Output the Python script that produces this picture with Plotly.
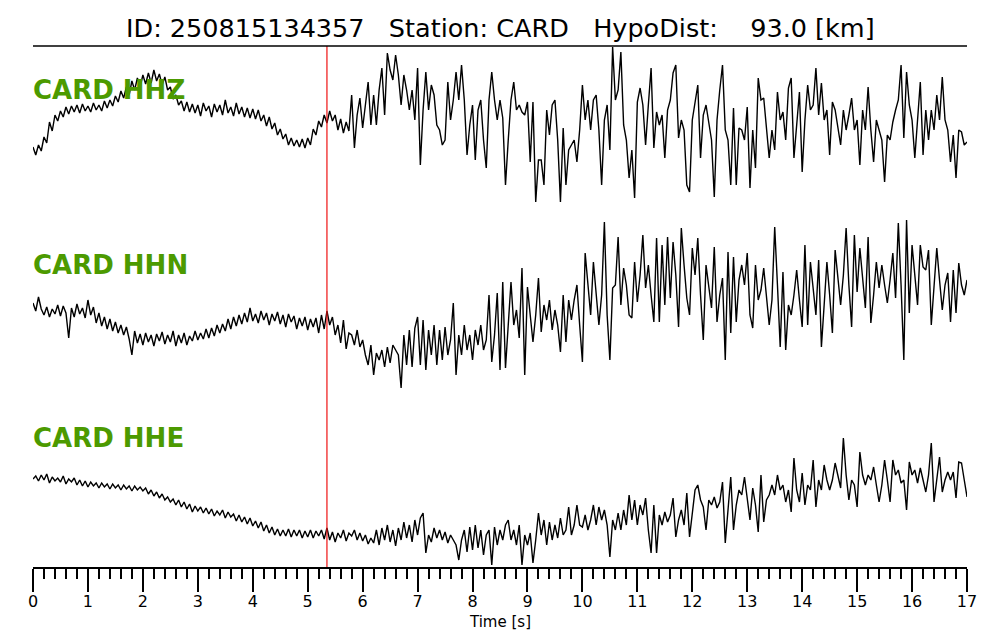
import numpy as np
import plotly.graph_objects as go

# ---------------- data ----------------
DT = 0.05
T_MAX = 17           # axis end [s]
P_PICK = 5.35        # P-arrival pick [s]
TITLE = "ID: 250815134357   Station: CARD   HypoDist:    93.0 [km]"
CHANNELS = ["CARD HHZ", "CARD HHN", "CARD HHE"]
X_TICKS = list(range(0, 18))

# normalised amplitudes (arbitrary units, positive = up), one value per DT
HHZ = [
    -22, -30, -20, -26, -12, -18, 3, -6, 10, 4,
    14, 8, 18, 11, 19, 13, 20, 12, 21, 14,
    19, 13, 22, 15, 20, 14, 24, 17, 25, 19,
    29, 23, 34, 27, 38, 30, 44, 35, 47, 38,
    50, 41, 52, 42, 55, 44, 51, 40, 48, 35,
    38, 26, 30, 20, 24, 14, 23, 13, 21, 12,
    20, 9, 22, 14, 19, 8, 21, 13, 20, 10,
    25, 12, 18, 9, 22, 11, 18, 8, 17, 7,
    16, 6, 15, 4, 10, -1, 8, -4, 2, -10,
    -4, -14, -9, -20, -13, -21, -15, -22, -14, -23,
    -13, -20, -4, -10, 4, -2, 10, 2, 14, 4,
    10, -5, 6, -8, 3, -6, 30, -23, 10, 27,
    -3, 20, 43, 0, 30, 0, 35, 57, 10, 72,
    55, 45, 70, 50, 20, 50, 35, 15, 35, 5,
    57, -40, 15, 53, 15, 40, 30, 0, -5, -20,
    -15, 43, 5, 25, 53, 25, 60, 25, -30, 0,
    20, -35, 15, 25, -15, -43, 25, 53, 25, 5,
    25, 7, -60, -15, 25, 43, 15, 20, 13, 10,
    23, -37, 23, -77, -35, -35, -60, 15, -10, 20,
    25, -15, -77, -3, -60, -25, -20, -15, -37, -5,
    40, 5, 25, -5, 25, 30, -5, -60, 5, 20,
    -25, 78, 25, 35, 73, 0, -15, -53, -25, -73,
    23, 37, 20, -20, 20, 57, -23, 13, 0, 10,
    -33, 15, 25, 52, 60, -13, 5, -5, -60, -67,
    5, 25, 40, -33, 10, 20, 0, -15, -72, 5,
    35, 60, -5, -15, -60, 17, -60, -3, -5, -15,
    18, -63, -5, -43, 47, 25, 27, -5, -33, -5,
    -25, 33, 5, 13, -15, 37, 47, -33, 5, 33,
    -47, 5, 40, 15, 20, 57, 10, 42, 5, 15,
    -30, 23, 15, -5, -20, 15, -5, 10, 27, -5,
    5, -40, 15, -5, 38, -5, -37, 5, -5, -15,
    -57, -10, -15, 3, 15, 25, 60, -13, 53, 20,
    5, -33, 5, 43, -30, 15, -15, 15, -5, 30,
    5, 48, 5, -5, -37, -10, -53, -5, -7, -20,
    -17,
]

HHN = [
    2, -6, 8, -4, -10, -2, -12, -4, -9, 0,
    -11, -1, -8, -33, -3, -12, 1, -9, -3, -13,
    5, -10, -2, -18, -8, -21, -12, -24, -14, -26,
    -17, -28, -20, -30, -22, -34, -50, -26, -38, -29,
    -40, -28, -37, -30, -41, -29, -36, -27, -39, -30,
    -37, -26, -41, -30, -38, -28, -40, -31, -36, -26,
    -35, -28, -34, -24, -33, -23, -31, -20, -28, -19,
    -26, -14, -24, -12, -21, -10, -19, -8, -17, -3,
    -16, -9, -18, -6, -15, -8, -20, -9, -16, -7,
    -19, -10, -22, -9, -17, -11, -24, -13, -21, -12,
    -25, -14, -22, -13, -28, -10, -24, -6, -20, -12,
    -30, -20, -38, -15, -44, -28, -30, -40, -25, -42,
    -35, -50, -60, -40, -70, -48, -55, -45, -62, -42,
    -58, -40, -45, -50, -83, -30, -60, -25, -62, -23,
    -12, -60, -15, -65, -25, -50, -20, -60, -25, -55,
    -22, -50, -35, 2, -70, -30, -50, -20, -45, -30,
    -55, -25, -40, -20, -45, -35, 10, -57, -30, 12,
    -65, 23, -63, -25, 23, -20, -5, -33, 37, -70,
    18, -10, -37, -10, 27, -27, 0, -15, 5, -25,
    -5, -20, -47, 10, -37, 5, -15, 5, 20, -20,
    -57, 52, 20, -10, 43, 15, -20, 10, 83, -10,
    -55, 17, 20, 68, 0, 37, 20, -10, -13, 43,
    3, 30, 70, 17, 40, 10, -17, 67, -17, 60,
    0, 68, 7, 63, 30, -22, 77, 40, 7, -10,
    57, 30, 67, 10, -35, 40, 20, -3, 58, -17,
    10, 27, -55, 53, -28, 48, -17, 25, 40, 20,
    52, -10, -23, 40, 5, 15, 37, 10, -20, 5,
    78, 20, -42, 33, -45, 0, -10, 10, 35, 5,
    -22, 60, -20, 43, 15, -10, 45, -42, 0, 43,
    10, -28, 55, 30, 0, 30, 77, 20, -22, 70,
    13, 57, 30, -3, 68, -18, 10, 43, 17, 40,
    20, 2, 25, 52, 7, 82, 20, -55, 85, -8,
    60, 30, 0, 60, 38, 35, 55, -20, 20, 57,
    25, -5, 20, 32, -17, 35, -8, 42, 20, 10,
    25,
]

HHE = [
    21, 24, 19, 25, 20, 26, 17, 23, 19, 22,
    18, 24, 16, 21, 18, 22, 15, 20, 14, 19,
    13, 18, 14, 17, 12, 17, 13, 16, 11, 16,
    12, 15, 10, 15, 11, 14, 9, 14, 10, 13,
    9, 12, 6, 10, 4, 8, 2, 6, 0, 3,
    -2, 1, -5, 0, -7, -2, -9, -4, -12, -6,
    -11, -7, -13, -8, -14, -9, -16, -11, -15, -10,
    -18, -12, -17, -14, -21, -15, -22, -17, -24, -18,
    -26, -21, -28, -22, -31, -25, -33, -27, -35, -29,
    -36, -30, -36, -29, -37, -30, -36, -30, -38, -31,
    -37, -30, -38, -31, -36, -30, -39, -28, -40, -32,
    -42, -33, -38, -30, -41, -33, -36, -30, -40, -33,
    -41, -35, -44, -38, -43, -30, -45, -28, -40, -25,
    -42, -30, -46, -28, -40, -22, -38, -25, -42, -20,
    -35, -18, -13, -53, -35, -42, -28, -38, -30, -40,
    -32, -43, -35, -40, -45, -60, -40, -30, -52, -27,
    -50, -25, -48, -30, -55, -35, -30, -65, -27, -45,
    -30, -40, -25, -20, -40, -30, -45, -25, -65, -35,
    -45, -33, -63, -40, -13, -35, -20, -45, -22, -40,
    -25, -38, -18, -35, -30, -7, -35, -25, -5, -25,
    -27, -15, -30, -20, -5, -25, -7, -20, -10, -25,
    -57, -20, -30, -13, -30, -10, -25, 5, -20, 0,
    -25, -5, -15, 2, -30, -53, -5, -53, -15, -25,
    -12, -22, -15, 2, -37, -20, -10, -25, 7, -37,
    -15, 10, 15, 0, -7, -30, 0, -5, 3, -8,
    -2, 18, -43, -10, 23, -30, -5, 10, 5, 23,
    0, -20, 12, -5, -32, 25, -22, 0, 5, 15,
    5, 25, 10, 15, -2, 10, -12, 42, 10, -2,
    27, -5, 15, 10, 40, -7, 20, 10, 35, 20,
    10, 20, 37, 25, 12, 62, 25, 0, 20, 15,
    -7, 48, 25, 15, 25, 20, 33, 15, -2, 15,
    40, 20, -2, 40, 25, 30, 17, 20, -10, 38,
    25, 30, 17, 32, 20, 8, 25, 57, -2, 20,
    43, 8, 20, 28, 20, 28, 2, 38, 37, 20,
    3,
]

TRACES = [HHZ, HHN, HHE]

# ---------------- layout constants ----------------
W, H = 1000, 640
ML, MR, MT, MB = 33, 33, 46, 73
PLOT_H = H - MT - MB
TRACE_CENTRES = [79, 259, 454]        # depth below top line, px-like units
LABEL_Y = [90, 265, 438]              # screen y of channel labels
GREEN = "#4C9A00"


def py(y_px):
    """screen y (px) -> paper fraction"""
    return (H - MB - y_px) / PLOT_H


fig = go.Figure()
for amp, centre in zip(TRACES, TRACE_CENTRES):
    a = np.asarray(amp, dtype=float)
    t = np.arange(len(a)) * DT
    fig.add_trace(go.Scatter(
        x=t, y=a - centre, mode="lines",
        line=dict(color="black", width=1.4),
        hoverinfo="skip", showlegend=False,
    ))

# P pick (red vertical line)
fig.add_shape(type="line", xref="x", yref="paper",
              x0=P_PICK, x1=P_PICK, y0=0, y1=1,
              line=dict(color="#ee1111", width=1.2))
# top rule
fig.add_shape(type="line", xref="paper", yref="paper",
              x0=0, x1=1, y0=1, y1=1,
              line=dict(color="black", width=1.5))

annotations = [
    dict(text=TITLE.replace(" ", "\u00a0"), x=0.5, y=py(28),
         xref="paper", yref="paper", xanchor="center", yanchor="middle",
         showarrow=False,
         font=dict(family="DejaVu Sans", size=25.5, color="black")),
    dict(text="Time [s]", x=0.5, y=py(622),
         xref="paper", yref="paper", xanchor="center", yanchor="middle",
         showarrow=False, borderpad=0,
         font=dict(family="DejaVu Sans", size=15, color="black")),
]
for name, ly in zip(CHANNELS, LABEL_Y):
    annotations.append(dict(
        text="<b>" + name + "</b>", x=0.0, y=py(ly),
        xref="paper", yref="paper", xanchor="left", yanchor="middle",
        xshift=-2, showarrow=False,
        font=dict(family="DejaVu Sans", size=26, color=GREEN)))

fig.update_layout(
    width=W, height=H,
    margin=dict(l=ML, r=MR, t=MT, b=MB, pad=0, autoexpand=False),
    paper_bgcolor="white", plot_bgcolor="white",
    annotations=annotations,
    xaxis=dict(
        range=[0, T_MAX], tickmode="array", tickvals=X_TICKS,
        ticktext=[str(v) for v in X_TICKS],
        automargin=False,
        showgrid=False, zeroline=False,
        showline=True, linecolor="black", linewidth=2,
        ticks="outside", ticklen=23, tickwidth=2, tickcolor="black",
        ticklabelstandoff=-4,
        tickfont=dict(family="DejaVu Sans", size=16, color="black"),
        minor=dict(dtick=0.2, tick0=0, ticks="outside", ticklen=10,
                   tickwidth=2, tickcolor="black", showgrid=False),
        fixedrange=True,
    ),
    yaxis=dict(range=[-PLOT_H, 0], visible=False, fixedrange=True,
               automargin=False),
)

fig.write_html(
    "out.html",
    config={"displayModeBar": False},
    post_script="document.body.style.margin='0';document.body.style.padding='0';",
)
